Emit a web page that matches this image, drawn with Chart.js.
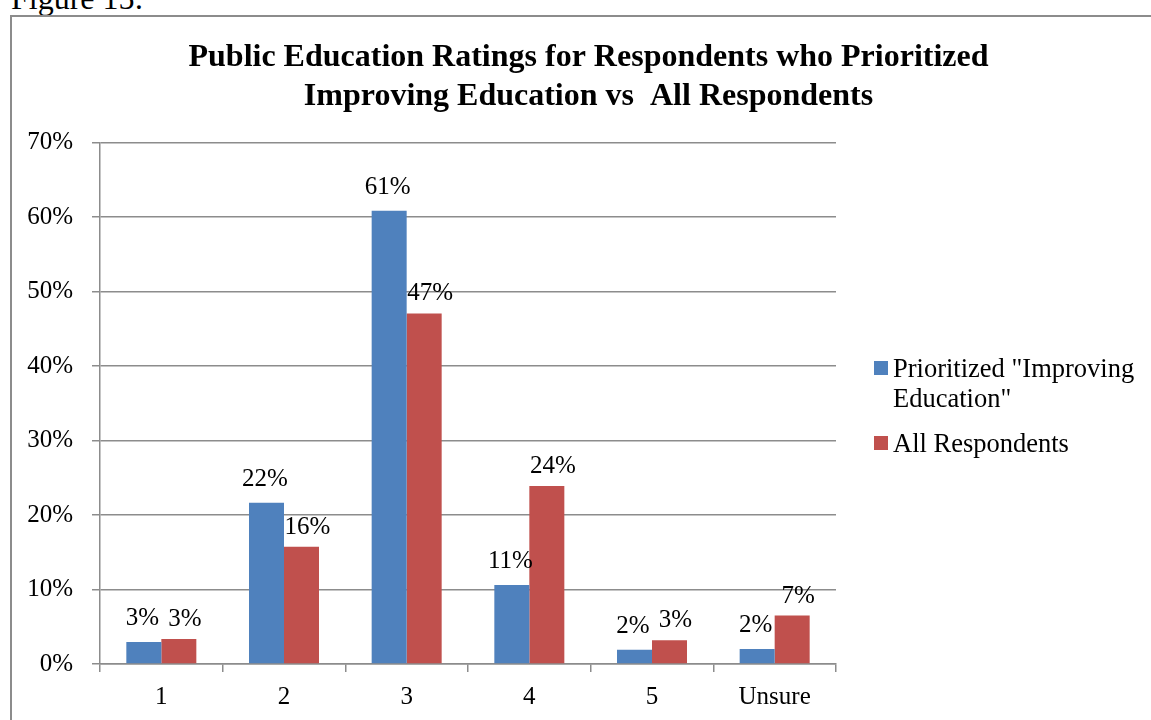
<!DOCTYPE html>
<html>
<head>
<meta charset="utf-8">
<script src="https://cdn.jsdelivr.net/npm/chart.js@4"></script>
<style>
  html, body { margin: 0; padding: 0; background: #fff; overflow: hidden; width: 1151px; height: 720px; }
  #fig { position: absolute; left: 11px; top: -18px; font: 32px "Liberation Serif", "Times New Roman", serif; line-height: 32px; color: #000; white-space: nowrap; }
  #frame { position: absolute; left: 10px; top: 15px; width: 1200px; height: 800px; border: 2px solid #8c8c8c; box-sizing: border-box; }
  #c { position: absolute; left: 12px; top: 17px; }
  #legend { position: absolute; left: 874px; top: 353px; width: 275px; font: 26.5px "Liberation Serif", "Times New Roman", serif; color: #000; }
  .item { position: relative; padding-left: 19px; line-height: 30px; margin-bottom: 15px; }
  .sw { position: absolute; left: 0; top: 8px; width: 14px; height: 14px; }
</style>
</head>
<body>
<div id="fig">Figure 15:</div>
<div id="frame"></div>
<canvas id="c" width="1153" height="703"></canvas>
<div id="legend"></div>
<script>
const categories = ["1", "2", "3", "4", "5", "Unsure"];
const prioritizedValues = [2.95, 21.65, 60.85, 10.6, 1.9, 2.0];
const allRespondentsValues = [3.36, 15.75, 47.07, 23.9, 3.2, 6.5];
const seriesNames = ['Prioritized "Improving Education"', 'All Respondents'];
const titleLines = ["Public Education Ratings for Respondents who Prioritized", "Improving Education vs  All Respondents"];
const yTicks = [0, 10, 20, 30, 40, 50, 60, 70];

const FONT = '"Liberation Serif", "Times New Roman", serif';
const GRID = '#8c8c8c';

const labelPlugin = {
  id: 'barLabels',
  afterDatasetsDraw(chart) {
    const ctx = chart.ctx;
    ctx.save();
    ctx.font = '25px ' + FONT;
    ctx.fillStyle = '#000';
    ctx.textAlign = 'center';
    ctx.textBaseline = 'alphabetic';
    chart.data.datasets.forEach((ds, di) => {
      const meta = chart.getDatasetMeta(di);
      const dx = di === 0 ? -1.5 : 6;
      const gap = di === 0 ? 17 : 13;
      meta.data.forEach((el, i) => {
        ctx.fillText(Math.round(ds.data[i]) + '%', el.x + dx, el.y - gap);
      });
    });
    ctx.restore();
  }
};

const chart = new Chart(document.getElementById('c'), {
  type: 'bar',
  data: {
    labels: categories,
    datasets: [
      { label: seriesNames[0], data: prioritizedValues, backgroundColor: '#4F81BD' },
      { label: seriesNames[1], data: allRespondentsValues, backgroundColor: '#C0504D' }
    ]
  },
  options: {
    responsive: false,
    animation: false,
    devicePixelRatio: 1,
    layout: { padding: 0 },
    datasets: { bar: { categoryPercentage: 0.5707, barPercentage: 1 } },
    plugins: {
      legend: { display: false },
      tooltip: { enabled: false },
      title: {
        display: true,
        text: titleLines,
        color: '#000',
        font: { family: FONT, size: 32, weight: 'bold', lineHeight: 39 / 32 },
        padding: { top: 21.5, bottom: 26.2 }
      }
    },
    scales: {
      x: {
        grid: { display: true, drawOnChartArea: false, drawTicks: true, tickLength: 8, color: GRID, lineWidth: 1.5, offset: true },
        border: { display: true, color: GRID, width: 1.5 },
        ticks: { color: '#000', font: { family: FONT, size: 25 }, padding: 10, maxRotation: 0 },
        afterFit(scale) { scale.height = 56; }
      },
      y: {
        min: 0,
        max: 70,
        afterBuildTicks(scale) { scale.ticks = yTicks.map(v => ({ value: v })); },
        grid: { color: GRID, lineWidth: 1.5, tickLength: 8 },
        border: { display: true, color: GRID, width: 1.5 },
        ticks: { color: '#000', font: { family: FONT, size: 25 }, padding: 19, callback: v => v + '%' },
        afterFit(scale) { scale.width = 88; }
      },
      legendSpace: {
        type: 'linear',
        position: 'right',
        display: true,
        grid: { display: false },
        border: { display: false },
        ticks: { display: false },
        afterFit(scale) { scale.width = 329; }
      }
    }
  },
  plugins: [labelPlugin]
});

const legend = document.getElementById('legend');
chart.data.datasets.forEach(ds => {
  const item = document.createElement('div');
  item.className = 'item';
  const sw = document.createElement('span');
  sw.className = 'sw';
  sw.style.background = ds.backgroundColor;
  item.appendChild(sw);
  item.appendChild(document.createTextNode(ds.label));
  legend.appendChild(item);
});
</script>
</body>
</html>
